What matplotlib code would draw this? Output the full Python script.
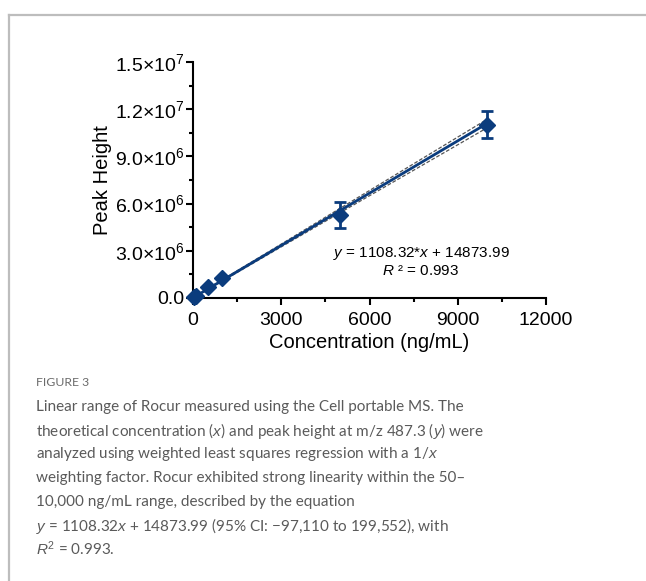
#!/usr/bin/env python3
"""Linear range of Rocur: calibration curve with weighted fit and caption."""

import matplotlib

matplotlib.use("Agg")
import matplotlib.pyplot as plt
from matplotlib.lines import Line2D

# Data
conc = [50, 100, 500, 1000, 5000, 10000]
peak = [0.06e6, 0.12e6, 0.72e6, 1.28e6, 5.25e6, 11.02e6]
peak_sd = [0.02e6, 0.03e6, 0.06e6, 0.08e6, 0.82e6, 0.86e6]

slope = 1108.32
intercept = 14873.99
fit_x = [0, 10000]

band_x = [0, 2500, 5000, 7500, 10000]
band_upper = [0.04e6, 2.86e6, 5.70e6, 8.53e6, 11.36e6]
band_lower = [-0.01e6, 2.71e6, 5.42e6, 8.12e6, 10.82e6]

xticks = [0, 3000, 6000, 9000, 12000]
yticks = [0, 3e6, 6e6, 9e6, 12e6, 15e6]
ytick_labels = ["0.0", "3.0×10$^6$", "6.0×10$^6$", "9.0×10$^6$",
                "1.2×10$^7$", "1.5×10$^7$"]

caption_lines = [
    "Linear range of Rocur measured using the Cell portable MS. The",
    "theoretical concentration ($\\it{x}$) and peak height at m/z 487.3 ($\\it{y}$) were",
    "analyzed using weighted least squares regression with a 1/$\\it{x}$",
    "weighting factor. Rocur exhibited strong linearity within the 50–",
    "10,000 ng/mL range, described by the equation",
    "$\\it{y}$ = 1108.32$\\it{x}$ + 14873.99 (95% CI: −97,110 to 199,552), with",
    "$\\it{R}^2$ = 0.993.",
]

NAVY = "#0b3c7d"

plt.rcParams["font.family"] = ["Liberation Sans", "DejaVu Sans"]
plt.rcParams["mathtext.fontset"] = "custom"
plt.rcParams["mathtext.rm"] = "Liberation Sans"
plt.rcParams["mathtext.it"] = "Liberation Sans:italic"

fig = plt.figure(figsize=(6.46, 5.81), dpi=100)
ax = fig.add_axes([193 / 646, 1 - 298 / 581, 353 / 646, 236 / 581])

# confidence band
ax.plot(band_x, band_upper, color="#555555", lw=0.9, ls=(0, (3, 1.5)))
ax.plot(band_x, band_lower, color="#555555", lw=0.9, ls=(0, (3, 1.5)))

# fit line
ax.plot(fit_x, [slope * x + intercept for x in fit_x], color=NAVY, lw=2)

# points with error bars
ax.errorbar(conc, peak, yerr=peak_sd, fmt="D", color=NAVY, ms=8,
            elinewidth=2, capsize=4, capthick=2, clip_on=False, zorder=5)

ax.set_xlim(0, 12000)
ax.set_ylim(0, 1.5e7)
ax.set_xticks(xticks)
ax.set_xticks([1500, 4500, 7500, 10500], minor=True)
ax.set_yticks(yticks)
ax.set_yticklabels(ytick_labels)
ax.set_yticks([1.5e6, 4.5e6, 7.5e6, 10.5e6, 13.5e6], minor=True)

for side in ("top", "right"):
    ax.spines[side].set_visible(False)
for side in ("left", "bottom"):
    ax.spines[side].set_linewidth(1.5)
ax.tick_params(which="major", direction="out", length=5, width=1.5,
               labelsize=14, pad=1.5)
ax.tick_params(axis="x", which="major", pad=5)
ax.tick_params(which="minor", direction="out", length=3, width=1.5)

ax.set_xlabel("Concentration (ng/mL)", fontsize=14.5, labelpad=3)
ax.set_ylabel("Peak Height", fontsize=14.5, labelpad=2)

ax.text(7750, 2.85e6, "$\\it{y}$ = 1108.32*$\\it{x}$ + 14873.99",
        fontsize=11, ha="center", va="center")
ax.text(7750, 1.7e6, "$\\it{R}$ ² = 0.993", fontsize=11, ha="center", va="center")

# frame around the figure panel
fig.add_artist(Line2D([9 / 646, 1], [1 - 15 / 581] * 2, color="#bdbdbd", lw=1.6))
fig.add_artist(Line2D([9 / 646] * 2, [0, 1 - 15 / 581], color="#bdbdbd", lw=1.6))

# caption
fig.text(36 / 646, 1 - 383 / 581, "FIGURE 3", fontsize=8.8, color="#6b6b6b",
         family=["Lato", "DejaVu Sans"], va="center")
for i, line in enumerate(caption_lines):
    fig.text(36 / 646, 1 - (407 + 23.7 * i) / 581, line, fontsize=11.0,
             color="#5a5a5a", family=["Lato", "DejaVu Sans"], va="center")

fig.savefig("out.png", dpi=100, facecolor="white")
plt.close(fig)
